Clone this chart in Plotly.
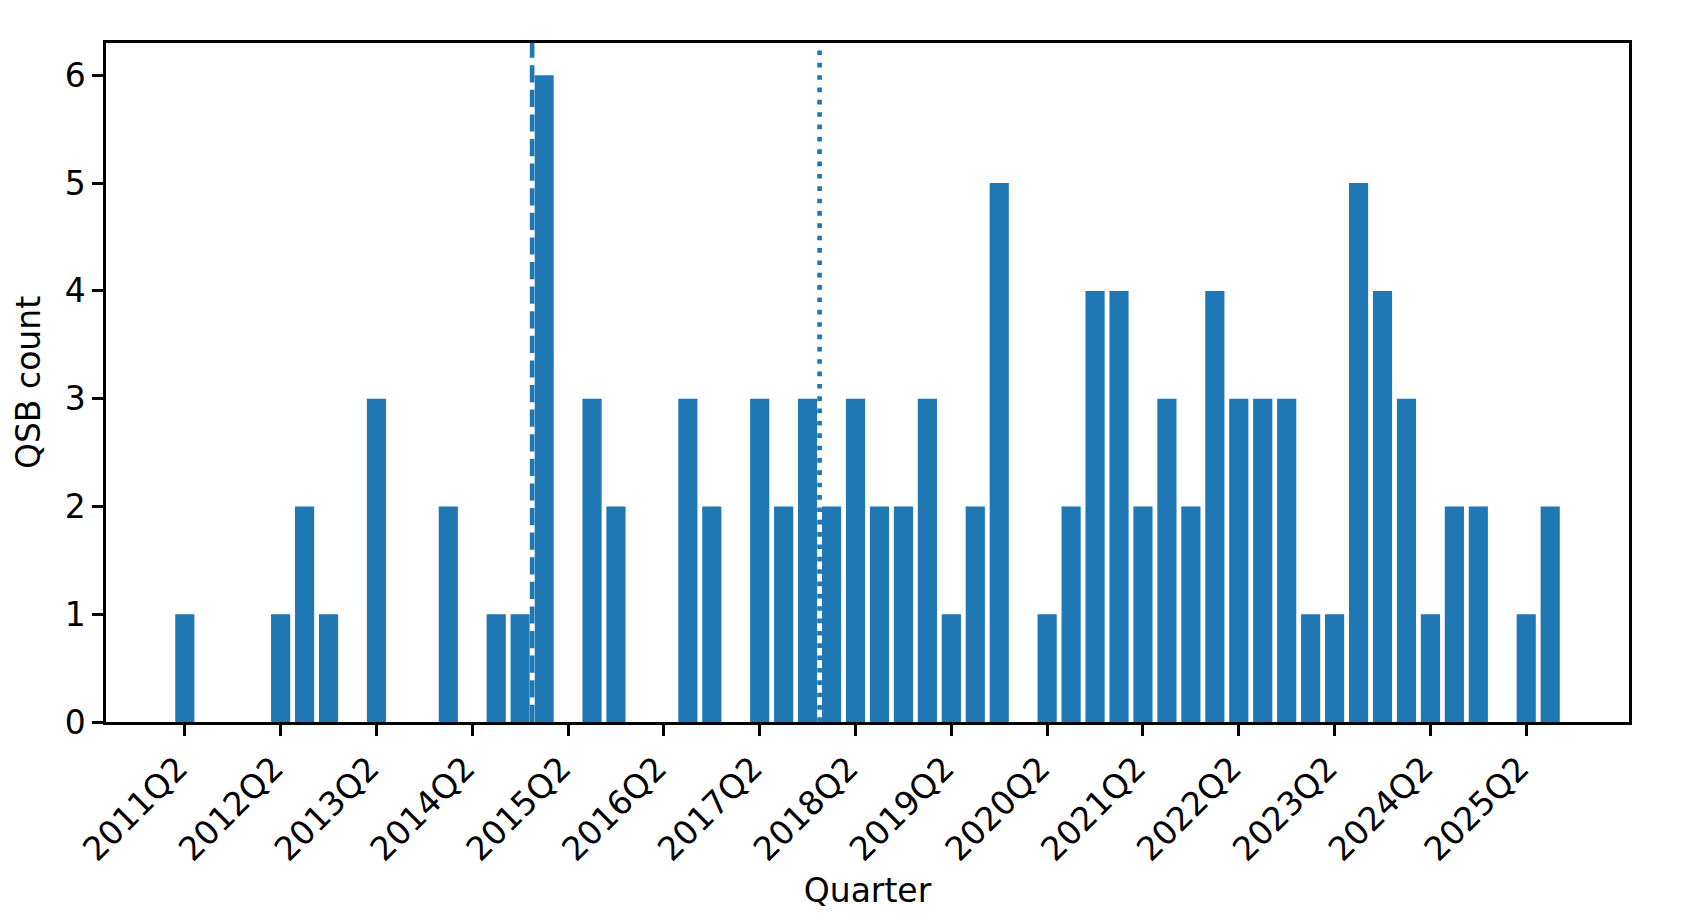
import plotly.graph_objects as go

quarters = [
    "2011Q2", "2011Q3", "2011Q4", "2012Q1", "2012Q2", "2012Q3", "2012Q4", "2013Q1",
    "2013Q2", "2013Q3", "2013Q4", "2014Q1", "2014Q2", "2014Q3", "2014Q4", "2015Q1",
    "2015Q2", "2015Q3", "2015Q4", "2016Q1", "2016Q2", "2016Q3", "2016Q4", "2017Q1",
    "2017Q2", "2017Q3", "2017Q4", "2018Q1", "2018Q2", "2018Q3", "2018Q4", "2019Q1",
    "2019Q2", "2019Q3", "2019Q4", "2020Q1", "2020Q2", "2020Q3", "2020Q4", "2021Q1",
    "2021Q2", "2021Q3", "2021Q4", "2022Q1", "2022Q2", "2022Q3", "2022Q4", "2023Q1",
    "2023Q2", "2023Q3", "2023Q4", "2024Q1", "2024Q2", "2024Q3", "2024Q4", "2025Q1",
    "2025Q2", "2025Q3",
]
qsb_counts = [
    1, 0, 0, 0, 1, 2, 1, 0,
    3, 0, 0, 2, 0, 1, 1, 6,
    0, 3, 2, 0, 0, 3, 2, 0,
    3, 2, 3, 2, 3, 2, 2, 3,
    1, 2, 5, 0, 1, 2, 4, 4,
    2, 3, 2, 4, 3, 3, 3, 1,
    1, 5, 4, 3, 1, 2, 2, 0,
    1, 2,
]
tick_labels = [
    "2011Q2", "2012Q2", "2013Q2", "2014Q2", "2015Q2", "2016Q2", "2017Q2", "2018Q2",
    "2019Q2", "2020Q2", "2021Q2", "2022Q2", "2023Q2", "2024Q2", "2025Q2",
]
# vertical marker lines (between quarters)
dashed_after = "2014Q4"
dotted_after = "2017Q4"

BLUE = "#1f77b4"
FONT = "DejaVu Sans"
FS = 33

x_idx = list(range(len(quarters)))
tick_vals = [quarters.index(t) for t in tick_labels]

fig = go.Figure()
fig.add_trace(go.Bar(x=x_idx, y=qsb_counts, marker=dict(color=BLUE, line=dict(width=0)),
                     width=0.8, hovertext=quarters))

n = len(quarters)
span = (n - 1) + 0.8
xr = [-0.4 - 0.05 * span, (n - 1) + 0.4 + 0.05 * span]

lw = 4.65
for q, dash in [(dashed_after, "17.2px,7.4px"), (dotted_after, "4.65px,7.7px")]:
    xv = quarters.index(q) + 0.5
    fig.add_shape(type="line", xref="x", yref="paper", x0=xv, x1=xv, y0=0, y1=1,
                  line=dict(color="white", width=lw), layer="above")
    fig.add_shape(type="line", xref="x", yref="paper", x0=xv, x1=xv, y0=0, y1=1,
                  line=dict(color=BLUE, width=lw, dash=dash), layer="above")

axis_common = dict(showline=True, linecolor="black", linewidth=2.5, mirror=True,
                   ticks="outside", ticklen=11, tickwidth=2.5, tickcolor="black",
                   showgrid=False, zeroline=False,
                   tickfont=dict(family=FONT, size=FS, color="black"))

fig.update_xaxes(range=xr, tickmode="array", tickvals=tick_vals, ticktext=tick_labels,
                 tickangle=-45, ticklabelshift=-7,
                 title=dict(text="Quarter", font=dict(family=FONT, size=FS, color="black"),
                            standoff=12),
                 **axis_common)
fig.update_yaxes(range=[0, 6.3], tickmode="linear", tick0=0, dtick=1,
                 title=dict(text="QSB count", font=dict(family=FONT, size=FS, color="black"),
                            standoff=15),
                 **axis_common)

fig.update_layout(width=1696, height=923, margin=dict(l=106, r=67, t=43, b=201, autoexpand=False),
                  paper_bgcolor="white", plot_bgcolor="white", showlegend=False,
                  font=dict(family=FONT, size=FS, color="black"), bargap=0.2)

fig.write_html("out.html")
